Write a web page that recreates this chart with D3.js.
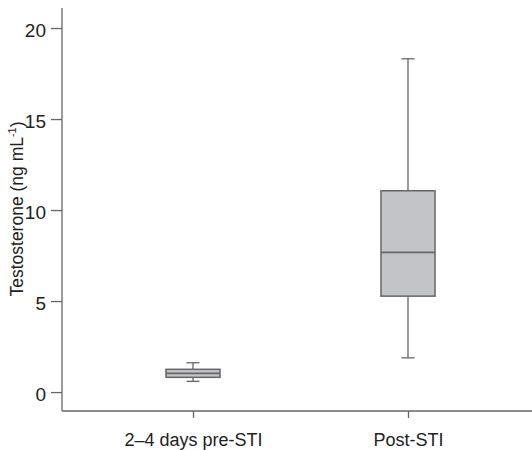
<!DOCTYPE html>
<html><head><meta charset="utf-8">
<script src="https://cdn.jsdelivr.net/npm/d3@7"></script>
<style>body{margin:0;background:#fff}svg{display:block}text{font-family:"Liberation Sans",Arial,sans-serif;fill:#222}</style>
</head><body><svg id="c" width="532" height="450"></svg>
<script>
const categories = ["2\u20134 days pre-STI", "Post-STI"];
const whiskerLow = [0.59, 1.88];
const q1 = [0.81, 5.27];
const median = [1.03, 7.68];
const q3 = [1.25, 11.06];
const whiskerHigh = [1.61, 18.31];
const yTicks = [0, 5, 10, 15, 20];

(function(){
const svg = d3.select("#c");
const mL = 62, mR = 532, mT = 8, mB = 411;
const y = d3.scaleLinear().domain([-1.04, 21.1]).range([mB, mT]);
const x = d3.scalePoint().domain(categories).range([193, 408]);
const gray = "#666";
const ff = '"Liberation Sans",Arial,sans-serif';

const gy = svg.append("g").attr("transform", `translate(${mL},0)`)
  .call(d3.axisLeft(y).tickValues(yTicks).tickSize(11).tickPadding(5).tickFormat(d3.format("d")));
gy.select(".domain").attr("d", `M0,${mT}V${mB}`);
const gx = svg.append("g").attr("transform", `translate(0,${mB})`)
  .call(d3.axisBottom(x).tickSize(7).tickPadding(15));
gx.select(".domain").attr("d", `M${mL},0H${mR}`);
svg.selectAll(".domain, .tick line").attr("stroke", gray).attr("stroke-width", 1.3);
svg.selectAll(".tick text").attr("fill", "#222");
gx.selectAll(".tick text").style("font-size", "18px").style("font-family", ff);
gy.selectAll(".tick text").style("font-size", "19px").attr("dy", "0.42em")
  .style("font-family", '"Liberation Sans Narrow","Arial Narrow","Liberation Sans",sans-serif');

svg.append("text").attr("transform", `translate(23,${209}) rotate(-90)`)
  .attr("text-anchor", "middle").style("font-size", "17.5px")
  .html('Testosterone (ng mL<tspan dy="-7" font-size="11">-1</tspan><tspan dy="7">)</tspan>');

const boxW = 54, capW = 13;
const data = categories.map((c, i) => ({c, lo: whiskerLow[i], q1: q1[i], med: median[i], q3: q3[i], hi: whiskerHigh[i]}));
const g = svg.append("g").selectAll("g").data(data).join("g").attr("transform", d => `translate(${x(d.c)},0)`);
g.append("line").attr("y1", d => y(d.hi)).attr("y2", d => y(d.q3)).attr("stroke", gray).attr("stroke-width", 1.3);
g.append("line").attr("y1", d => y(d.q1)).attr("y2", d => y(d.lo)).attr("stroke", gray).attr("stroke-width", 1.3);
g.append("line").attr("x1", -capW/2).attr("x2", capW/2).attr("y1", d => y(d.hi)).attr("y2", d => y(d.hi)).attr("stroke", gray).attr("stroke-width", 1.3);
g.append("line").attr("x1", -capW/2).attr("x2", capW/2).attr("y1", d => y(d.lo)).attr("y2", d => y(d.lo)).attr("stroke", gray).attr("stroke-width", 1.3);
g.append("rect").attr("x", -boxW/2).attr("width", boxW).attr("y", d => y(d.q3)).attr("height", d => y(d.q1) - y(d.q3))
  .attr("fill", "#c3c4c8").attr("stroke", gray).attr("stroke-width", 1.5);
g.append("line").attr("x1", -boxW/2).attr("x2", boxW/2).attr("y1", d => y(d.med)).attr("y2", d => y(d.med)).attr("stroke", gray).attr("stroke-width", 1.8);
})();
</script></body></html>
